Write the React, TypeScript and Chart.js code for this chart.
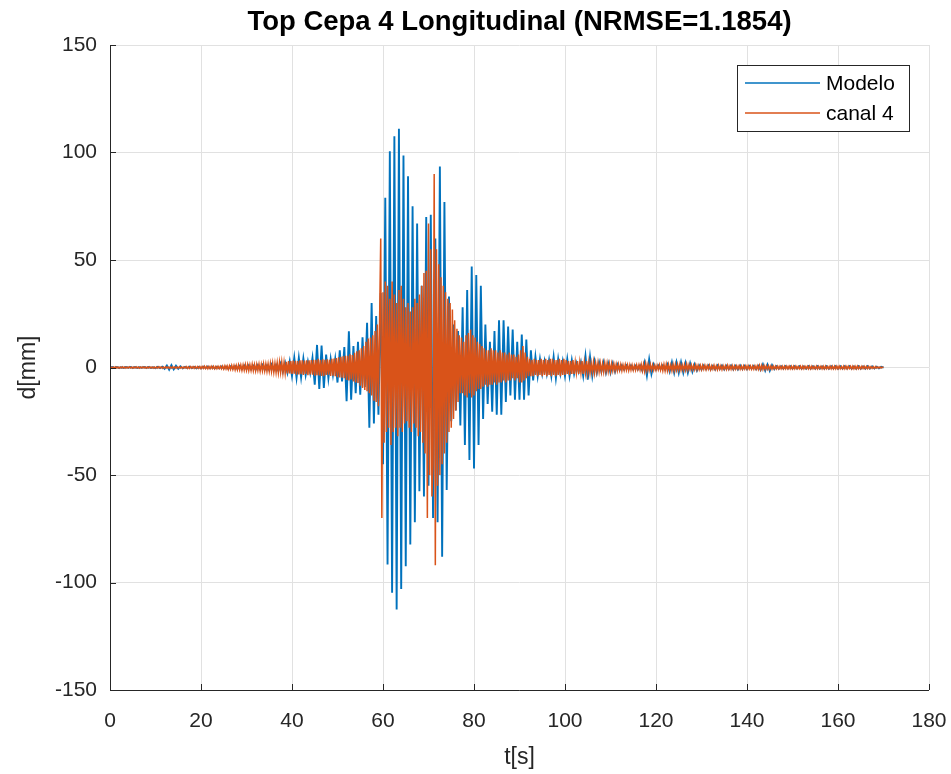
import React, { useEffect, useRef } from "react";
import { Chart, registerables } from "chart.js";

Chart.register(...registerables);

// ---- Data ----
const TITLE = "Top Cepa 4 Longitudinal (NRMSE=1.1854)";
const X_LABEL = "t[s]";
const Y_LABEL = "d[mm]";
const SERIES_NAMES = ["Modelo", "canal 4"];
const X_TICKS = [0, 20, 40, 60, 80, 100, 120, 140, 160, 180];
const Y_TICKS = [-150, -100, -50, 0, 50, 100, 150];
const MODELO_STEP_S = 0.5; // sampling interval of modeloMm, starting at t = 0 s
const CANAL4_STEP_S = 0.25; // sampling interval of canal4Mm, starting at t = 0 s

// Modelo displacement [mm], one value every 0.5 s from t = 0 to 170 s
const modeloMm = [
  0, 0.2, -0.2, 0.2, -0.2, 0.1, -0.2, 0.2, -0.1, 0.2,
  -0.2, 0.2, -0.2, 0.1, -0.1, 0.2, -0.2, 0.2, -0.2, 0.1,
  -0.3, 0.3, -0.3, 0.4, -0.6, 0.9, -1.0, 1.1, -0.9, 0.8,
  -0.6, 0.5, -0.4, 0.3, -0.3, 0.4, -0.3, 0.3, -0.4, 0.3,
  -0.4, 0.4, -0.3, 0.5, -0.4, 0.4, -0.5, 0.4, -0.4, 0.5,
  -0.5, 0.4, -0.6, 0.5, -0.5, 0.6, -0.7, 0.8, -0.7, 0.9,
  -0.8, 1.0, -0.9, 0.8, -1.0, 1.1, -0.9, 1.2, -1.1, 1.0,
  -1.2, 1.4, -1.3, 1.2, -1.5, 1.8, -2.0, 2.2, -2.5, 3.0,
  -4.0, 4.6, -4.8, 4.5, -4.6, 4.2, -3.5, 2.8, -2.5, 4.5,
  -8.0, 10.5, -10.0, 10.2, -9.5, 6.0, -5.0, 4.0, -3.5, 4.0,
  -7.0, 8.0, -6.5, 9.5, -15.7, 16.9, -15.0, 10.0, -12.0, 12.0,
  -12.6, 14.0, -9.0, 20.8, -28.0, 30.0, -26.0, 24.0, -22.0, 34.7,
  -45.0, 79.0, -91.6, 100.6, -104.8, 107.6, -112.6, 111.0, -103.0, 98.6,
  -92.4, 89.0, -82.3, 75.0, -72.0, 67.0, -57.5, 38.0, -60.0, 70.0,
  -55.0, 71.0, -70.0, 60.0, -72.0, 93.5, -88.0, 77.0, -57.0, 33.0,
  -25.0, 20.0, -20.0, 17.0, -27.0, 28.0, -36.0, 36.0, -43.0, 47.0,
  -47.0, 43.0, -36.0, 38.0, -24.0, 20.0, -17.0, 12.0, -20.6, 17.0,
  -22.0, 22.0, -22.0, 22.0, -16.0, 19.0, -13.0, 17.7, -15.0, 12.0,
  -15.0, 15.3, -15.0, 13.0, -13.0, 8.0, -6.0, 5.0, -4.0, 4.0,
  -3.0, 3.0, -3.0, 3.5, -4.0, 5.0, -5.0, 4.0, -3.0, 3.0,
  -4.0, 4.0, -4.0, 3.5, -3.0, 2.0, -2.0, 2.5, -4.0, 5.3,
  -5.6, 5.0, -4.0, 3.0, -2.5, 2.5, -2.0, 2.5, -2.5, 2.0,
  -2.5, 2.0, -2.0, 1.5, -1.2, 1.0, -1.0, 1.0, -0.8, 1.0,
  -1.0, 0.8, -1.0, 1.0, -1.5, 2.5, -3.8, 3.8, -3.0, 1.5,
  -1.0, 1.0, -0.8, 1.0, -1.0, 1.5, -2.0, 2.5, -2.5, 2.5,
  -2.5, 2.5, -2.5, 2.2, -2.5, 2.0, -2.0, 1.5, -1.5, 1.0,
  -1.0, 1.0, -0.8, 1.0, -1.0, 0.8, -1.0, 1.0, -0.8, 1.0,
  -1.0, 0.8, -0.8, 1.0, -1.0, 0.8, -1.0, 1.0, -0.8, 0.8,
  -0.8, 0.8, -0.6, 0.8, -0.8, 0.8, -1.2, 1.5, -1.5, 1.4,
  -1.5, 1.2, -0.8, 0.6, -0.6, 0.6, -0.6, 0.6, -0.5, 0.6,
  -0.6, 0.6, -0.5, 0.6, -0.6, 0.5, -0.6, 0.6, -0.6, 0.6,
  -0.6, 0.6, -0.6, 0.5, -0.6, 0.6, -0.6, 0.6, -0.5, 0.6,
  -0.6, 0.6, -0.6, 0.6, -0.5, 0.6, -0.6, 0.5, -0.6, 0.6,
  -0.6, 0.5, -0.6, 0.6, -0.5, 0.5, -0.5, 0.4, -0.4, 0.3,
  0,
];

// canal 4 displacement [mm], one value every 0.25 s from t = 0 to 170 s (20 values = 5 s per row)
const canal4Mm = [
  0, 0.2, -0.3, 0.2, -0.2, 0.3, -0.2, 0.2, -0.3, 0.2, -0.2, 0.3, -0.2, 0.2, -0.3, 0.2, -0.2, 0.3, -0.2, 0.2,
  -0.3, 0.2, -0.2, 0.3, -0.2, 0.2, -0.3, 0.2, -0.2, 0.3, -0.2, 0.2, -0.3, 0.2, -0.2, 0.3, -0.2, 0.2, -0.3, 0.2,
  -0.3, 0.3, -0.3, 0.4, -0.3, 0.3, -0.4, 0.3, -0.3, 0.4, -0.3, 0.3, -0.4, 0.3, -0.3, 0.4, -0.3, 0.3, -0.4, 0.3,
  -0.3, 0.4, -0.3, 0.3, -0.4, 0.3, -0.3, 0.4, -0.4, 0.3, -0.4, 0.4, -0.3, 0.4, -0.4, 0.4, -0.3, 0.4, -0.4, 0.5,
  -0.5, 0.5, -0.4, 0.6, -0.5, 0.5, -0.6, 0.5, -0.5, 0.6, -0.5, 0.6, -0.6, 0.5, -0.6, 0.6, -0.5, 0.6, -0.6, 0.7,
  -0.7, 0.8, -0.7, 0.8, -0.9, 0.8, -0.9, 1.0, -0.9, 1.0, -1.1, 1.0, -1.1, 1.2, -1.1, 1.2, -1.3, 1.2, -1.3, 1.4,
  -1.3, 1.4, -1.5, 1.3, -1.4, 1.6, -1.5, 1.4, -1.6, 1.5, -1.4, 1.6, -1.7, 1.5, -1.6, 1.8, -1.6, 1.7, -1.8, 1.7,
  -1.8, 2.0, -1.9, 2.1, -2.2, 2.0, -2.3, 2.2, -2.4, 2.5, -2.3, 2.6, -2.5, 2.4, -2.7, 2.6, -2.8, 3.0, -2.8, 3.0,
  -3.0, 3.2, -2.9, 3.1, -3.3, 3.0, -3.2, 3.4, -3.1, 3.3, -3.5, 3.2, -3.0, 3.4, -3.6, 3.3, -3.2, 3.5, -3.4, 3.6,
  -3.8, 3.5, -3.6, 4.0, -3.7, 3.5, -3.9, 3.8, -4.0, 3.6, -3.5, 3.8, -3.4, 3.6, -3.9, 4.0, -3.8, 4.2, -4.0, 4.4,
  -4.5, 4.8, -4.6, 5.0, -4.8, 5.2, -5.0, 5.5, -5.8, 5.4, -6.0, 6.2, -5.6, 5.8, -6.5, 6.8, -7.0, 7.5, -7.2, 8.0,
  -8.5, 9.0, -9.5, 10.0, -10.5, 12.0, -11.0, 13.5, -12.0, 14.0, -13.0, 15.0, -15.5, 17.0, -16.0, 20.0, -18.0, 22.0, 60.0, -70.0,
  35.0, -35.0, 40.0, -30.0, 38.0, -28.0, 32.0, -36.0, 40.0, -30.0, 34.0, -28.0, 30.0, -32.0, 36.0, -28.0, 38.0, -30.0, 32.0, -26.0,
  28.0, -25.0, 30.0, -28.0, 26.0, -30.0, 28.0, -26.0, 32.0, -28.0, 30.0, -32.0, 34.0, -30.0, 38.0, -35.0, 44.0, -40.0, 45.0, -70.0,
  67.0, -50.0, 55.0, -60.0, -45.0, 90.0, -92.0, 55.0, -55.0, 48.0, -50.0, 42.0, -45.0, 38.0, -40.0, 35.0, -35.0, 32.0, -30.0, 30.0,
  -28.0, 27.0, -24.0, 22.0, -20.0, 18.0, -16.0, 15.0, -12.0, 14.0, -12.0, 12.0, -13.0, 15.0, -14.0, 16.0, -12.0, 17.7, -14.0, 15.0,
  -13.0, 14.0, -11.0, 12.0, -10.0, 11.0, -10.0, 10.0, -9.0, 9.0, -8.0, 8.0, -9.0, 8.0, -8.0, 9.0, -8.0, 8.0, -7.0, 8.0,
  -8.0, 7.0, -7.0, 8.0, -7.0, 7.0, -6.0, 7.0, -7.0, 6.0, -6.0, 7.0, -6.0, 6.0, -5.0, 6.0, -6.0, 5.0, -5.0, 6.0,
  -7.0, 8.0, -7.0, 10.0, -6.0, 7.0, -5.0, 5.0, -4.0, 4.0, -4.0, 3.5, -4.0, 4.0, -3.5, 3.5, -4.0, 3.5, -3.5, 4.0,
  -4.0, 3.5, -3.5, 4.0, -4.0, 3.5, -3.5, 4.0, -4.0, 4.0, -3.5, 3.5, -4.0, 3.5, -3.5, 4.0, -4.0, 3.5, -3.5, 4.0,
  -3.5, 3.5, -3.0, 3.0, -3.5, 3.0, -3.0, 3.5, -3.0, 2.5, -2.5, 3.0, -3.0, 2.5, -2.5, 3.0, -3.0, 2.5, -2.5, 3.0,
  -2.5, 2.5, -2.5, 2.0, -2.2, 2.5, -2.5, 2.0, -2.0, 2.2, -2.0, 2.0, -2.0, 1.8, -2.0, 2.0, -1.8, 2.0, -1.8, 1.8,
  -1.8, 1.8, -1.5, 1.6, -1.5, 1.5, -1.4, 1.5, -1.2, 1.4, -1.5, 1.2, -1.2, 1.4, -1.2, 1.2, -1.4, 1.2, -1.2, 1.2,
  -1.2, 1.0, -1.2, 1.2, -1.0, 1.2, -1.2, 1.5, -1.5, 1.5, -1.8, 1.8, -1.5, 1.5, -1.2, 1.4, -1.2, 1.2, -1.2, 1.0,
  -1.2, 1.0, -1.0, 1.2, -1.2, 1.2, -1.5, 1.4, -1.5, 1.5, -1.5, 1.4, -1.2, 1.2, -1.5, 1.4, -1.5, 1.5, -1.2, 1.4,
  -1.2, 1.5, -1.2, 1.2, -1.2, 1.4, -1.2, 1.5, -1.2, 1.2, -1.0, 1.2, -1.0, 1.0, -1.0, 1.2, -1.0, 1.0, -1.0, 1.0,
  -1.0, 1.0, -0.8, 1.0, -1.0, 0.9, -0.8, 1.0, -1.0, 0.8, -0.8, 1.0, -0.9, 0.8, -1.0, 1.0, -0.8, 0.8, -1.0, 0.8,
  -0.8, 0.8, -0.9, 1.0, -0.8, 0.8, -0.8, 0.9, -0.8, 0.8, -0.8, 0.8, -0.7, 0.8, -0.8, 0.7, -0.8, 0.8, -0.7, 0.8,
  -0.8, 0.8, -0.7, 0.7, -0.8, 0.7, -0.8, 0.8, -0.8, 0.8, -0.9, 1.0, -1.0, 1.0, -0.9, 0.9, -0.8, 0.8, -0.8, 0.8,
  -0.8, 0.7, -0.7, 0.7, -0.6, 0.6, -0.6, 0.6, -0.6, 0.6, -0.6, 0.6, -0.6, 0.6, -0.6, 0.6, -0.6, 0.6, -0.6, 0.6,
  -0.6, 0.6, -0.6, 0.6, -0.6, 0.5, -0.6, 0.6, -0.6, 0.6, -0.6, 0.6, -0.5, 0.6, -0.6, 0.6, -0.6, 0.6, -0.6, 0.5,
  -0.6, 0.6, -0.6, 0.6, -0.5, 0.6, -0.6, 0.6, -0.6, 0.6, -0.6, 0.5, -0.6, 0.6, -0.6, 0.6, -0.6, 0.6, -0.6, 0.6,
  -0.6, 0.6, -0.6, 0.5, -0.6, 0.6, -0.6, 0.6, -0.6, 0.6, -0.5, 0.6, -0.6, 0.6, -0.6, 0.6, -0.6, 0.6, -0.6, 0.5,
  -0.6, 0.6, -0.5, 0.6, -0.5, 0.5, -0.5, 0.5, -0.5, 0.4, -0.4, 0.4, -0.4, 0.4, -0.3, 0.3, -0.3, 0.3, -0.2, 0.2,
  0,
];

// ---- Styles ----
const BLUE = "#0072BD";
const ORANGE = "#D95319";
const AXIS_COLOR = "#262626";
const GRID_COLOR = "#e1e1e1";
const FONT_FAMILY = '"Liberation Sans", Arial, Helvetica, sans-serif';

const toPoints = (values: number[], step: number) =>
  values.map((v, i) => ({ x: i * step, y: v }));

const matlabDecor = {
  id: "matlabDecor",
  afterDraw(chart: any) {
    const { ctx, chartArea: a, scales } = chart;
    const xs = scales.x;
    const ys = scales.y;
    ctx.save();
    // axis lines (left and bottom)
    ctx.strokeStyle = AXIS_COLOR;
    ctx.lineWidth = 1;
    ctx.beginPath();
    ctx.moveTo(Math.round(a.left) + 0.5, a.top);
    ctx.lineTo(Math.round(a.left) + 0.5, Math.round(a.bottom) + 0.5);
    ctx.lineTo(a.right, Math.round(a.bottom) + 0.5);
    ctx.stroke();
    // inward tick marks
    const TL = 6;
    ctx.beginPath();
    X_TICKS.forEach((v) => {
      const px = Math.round(xs.getPixelForValue(v)) + 0.5;
      ctx.moveTo(px, a.bottom);
      ctx.lineTo(px, a.bottom - TL);
    });
    Y_TICKS.forEach((v) => {
      const py = Math.round(ys.getPixelForValue(v)) + 0.5;
      ctx.moveTo(a.left, py);
      ctx.lineTo(a.left + TL, py);
    });
    ctx.stroke();

    // title
    ctx.fillStyle = "#000000";
    ctx.font = `bold 27.5px ${FONT_FAMILY}`;
    ctx.textAlign = "center";
    ctx.textBaseline = "middle";
    ctx.fillText(TITLE, (a.left + a.right) / 2, 22);

    // legend box
    const bx = 737.5, by = 65.5, bw = 172, bh = 66;
    ctx.fillStyle = "#ffffff";
    ctx.fillRect(bx, by, bw, bh);
    ctx.strokeStyle = AXIS_COLOR;
    ctx.lineWidth = 1;
    ctx.strokeRect(bx, by, bw, bh);
    const colors = [BLUE, ORANGE];
    const rowsY = [83, 113];
    ctx.font = `21px ${FONT_FAMILY}`;
    ctx.textAlign = "left";
    ctx.textBaseline = "middle";
    SERIES_NAMES.forEach((name, i) => {
      ctx.strokeStyle = colors[i];
      ctx.lineWidth = 1.4;
      ctx.beginPath();
      ctx.moveTo(745, rowsY[i]);
      ctx.lineTo(820, rowsY[i]);
      ctx.stroke();
      ctx.fillStyle = "#000000";
      ctx.fillText(name, 826, rowsY[i] + 1);
    });
    ctx.restore();
  },
};

export default function App() {
  const canvasRef = useRef<HTMLCanvasElement | null>(null);

  useEffect(() => {
    document.body.style.margin = "0";
    const canvas = canvasRef.current;
    if (!canvas) return;
    const chart = new Chart(canvas, {
      type: "line",
      data: {
        datasets: [
          {
            label: SERIES_NAMES[0],
            data: toPoints(modeloMm, MODELO_STEP_S),
            borderColor: BLUE,
            backgroundColor: BLUE,
            borderWidth: 1.9,
            pointRadius: 0,
            tension: 0,
            order: 1,
          },
          {
            label: SERIES_NAMES[1],
            data: toPoints(canal4Mm, CANAL4_STEP_S),
            borderColor: ORANGE,
            backgroundColor: ORANGE,
            borderWidth: 1.5,
            pointRadius: 0,
            tension: 0,
            order: 0,
          },
        ],
      },
      options: {
        animation: false,
        responsive: false,
        maintainAspectRatio: false,
        events: [],
        layout: { padding: { top: 45, right: 22, bottom: 0, left: 0 } },
        plugins: {
          legend: { display: false },
          title: { display: false },
          tooltip: { enabled: false },
        },
        scales: {
          x: {
            type: "linear",
            min: 0,
            max: 180,
            afterBuildTicks: (s: any) => {
              s.ticks = X_TICKS.map((v) => ({ value: v }));
            },
            ticks: {
              color: AXIS_COLOR,
              font: { family: FONT_FAMILY, size: 21 },
              padding: 19,
              maxRotation: 0,
              autoSkip: false,
            },
            grid: { color: GRID_COLOR, drawTicks: false, lineWidth: 1 },
            border: { display: false },
            title: {
              display: true,
              text: X_LABEL,
              color: AXIS_COLOR,
              font: { family: FONT_FAMILY, size: 23 },
              padding: { top: 0, bottom: 3 },
            },
            afterFit: (s: any) => {
              s.height = 84;
              s.paddingLeft = 0;
              s.paddingRight = 0;
            },
          },
          y: {
            type: "linear",
            min: -150,
            max: 150,
            afterBuildTicks: (s: any) => {
              s.ticks = Y_TICKS.map((v) => ({ value: v }));
            },
            ticks: {
              color: AXIS_COLOR,
              font: { family: FONT_FAMILY, size: 21 },
              padding: 13,
              autoSkip: false,
            },
            grid: { color: GRID_COLOR, drawTicks: false, lineWidth: 1 },
            border: { display: false },
            title: {
              display: true,
              text: Y_LABEL,
              color: AXIS_COLOR,
              font: { family: FONT_FAMILY, size: 23 },
              padding: { top: 15, bottom: 0 },
            },
            afterFit: (s: any) => {
              s.width = 110;
            },
          },
        },
      },
      plugins: [matlabDecor],
    });
    return () => chart.destroy();
  }, []);

  return (
    <div style={{ position: "absolute", left: 0, top: 0, width: 951, height: 774, background: "#ffffff" }}>
      <canvas ref={canvasRef} width={951} height={774} style={{ display: "block" }} />
    </div>
  );
}
